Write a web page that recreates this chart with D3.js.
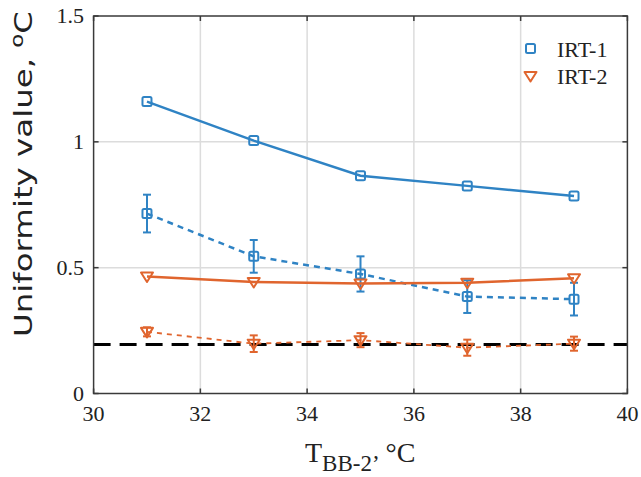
<!DOCTYPE html>
<html><head><meta charset="utf-8">
<script src="https://cdn.jsdelivr.net/npm/d3@7"></script>
<style>
html,body{margin:0;padding:0;background:#fff;}
svg{display:block;}
</style></head>
<body>
<svg id="chart" width="641" height="477"></svg>
<script>
// ---- data ----
const temps = [31, 33, 35, 37, 39];
const irt1Solid = [1.16, 1.005, 0.865, 0.825, 0.785];
const irt1Mean = [0.715, 0.545, 0.475, 0.385, 0.375];
const irt1Err = [0.075, 0.065, 0.07, 0.065, 0.065];
const irt2Solid = [0.465, 0.443, 0.437, 0.44, 0.458];
const irt2Mean = [0.245, 0.198, 0.212, 0.182, 0.198];
const irt2Err = [0.018, 0.033, 0.028, 0.032, 0.028];
const refLevel = 0.195;
const xTicks = [30, 32, 34, 36, 38, 40];
const yTicks = [0, 0.5, 1, 1.5];
const yTickLabels = ["0", "0.5", "1", "1.5"];
const legendLabels = ["IRT-1", "IRT-2"];

const blue = "#2f83c4", orange = "#e0652e";
const svg = d3.select("#chart");
const L = 93.6, R = 627.4, T = 16, B = 393.5;
const x = d3.scaleLinear().domain([30, 40]).range([L, R]);
const y = d3.scaleLinear().domain([0, 1.5]).range([B, T]);

// grid
const g = svg.append("g");
g.selectAll(".vg").data(xTicks.slice(1, -1)).enter().append("line")
  .attr("x1", d => x(d)).attr("x2", d => x(d)).attr("y1", T).attr("y2", B)
  .attr("stroke", "#dcdcdc").attr("stroke-width", 1.5);
g.selectAll(".hg").data(yTicks.slice(1, -1)).enter().append("line")
  .attr("y1", d => y(d)).attr("y2", d => y(d)).attr("x1", L).attr("x2", R)
  .attr("stroke", "#dcdcdc").attr("stroke-width", 1.5);

const line = d3.line().x(d => x(d[0])).y(d => y(d[1]));
const zip = (a, b) => a.map((v, i) => [v, b[i]]);

function squares(data, color) {
  svg.append("g").selectAll("rect").data(data).enter().append("rect")
    .attr("x", d => x(d[0]) - 4.5).attr("y", d => y(d[1]) - 4.5)
    .attr("width", 9).attr("height", 9).attr("rx", 1.5)
    .attr("fill", "none").attr("stroke", color).attr("stroke-width", 2);
}
function triangles(data, color) {
  svg.append("g").selectAll("path").data(data).enter().append("path")
    .attr("d", d => { const cx = x(d[0]), cy = y(d[1]);
      return `M${cx-6},${cy-4}L${cx+6},${cy-4}L${cx},${cy+5.5}Z`; })
    .attr("fill", "none").attr("stroke", color).attr("stroke-width", 2)
    .attr("stroke-linejoin", "round");
}
function errorbars(xs, m, e, color) {
  const eg = svg.append("g").attr("stroke", color).attr("stroke-width", 2);
  xs.forEach((t, i) => {
    eg.append("line").attr("x1", x(t)).attr("x2", x(t)).attr("y1", y(m[i] + e[i])).attr("y2", y(m[i] - e[i]));
    [m[i] + e[i], m[i] - e[i]].forEach(v => eg.append("line")
      .attr("x1", x(t) - 4).attr("x2", x(t) + 4).attr("y1", y(v)).attr("y2", y(v)));
  });
}

// IRT-1 solid
svg.append("path").attr("d", line(zip(temps, irt1Solid))).attr("fill", "none")
  .attr("stroke", blue).attr("stroke-width", 2.5);
squares(zip(temps, irt1Solid), blue);
// IRT-1 dashed with error bars
svg.append("path").attr("d", line(zip(temps, irt1Mean))).attr("fill", "none")
  .attr("stroke", blue).attr("stroke-width", 2.5).attr("stroke-dasharray", "6,5");
errorbars(temps, irt1Mean, irt1Err, blue);
squares(zip(temps, irt1Mean), blue);
// IRT-2 solid
svg.append("path").attr("d", line(zip(temps, irt2Solid))).attr("fill", "none")
  .attr("stroke", orange).attr("stroke-width", 2.5);
triangles(zip(temps, irt2Solid), orange);
// reference dashed line
svg.append("path").attr("d", line([[30, refLevel], [40, refLevel]])).attr("fill", "none")
  .attr("stroke", "#000").attr("stroke-width", 3).attr("stroke-dasharray", "17,9");
// IRT-2 dashed with error bars
svg.append("path").attr("d", line(zip(temps, irt2Mean))).attr("fill", "none")
  .attr("stroke", orange).attr("stroke-width", 1.8).attr("stroke-dasharray", "5,5");
errorbars(temps, irt2Mean, irt2Err, orange);
triangles(zip(temps, irt2Mean), orange);

// frame & ticks
svg.append("rect").attr("x", L).attr("y", T).attr("width", R - L).attr("height", B - T)
  .attr("fill", "none").attr("stroke", "#3a3a3a").attr("stroke-width", 1.5);
const tk = svg.append("g").attr("stroke", "#3a3a3a").attr("stroke-width", 1.5);
xTicks.forEach(t => {
  tk.append("line").attr("x1", x(t)).attr("x2", x(t)).attr("y1", B).attr("y2", B - 5);
  tk.append("line").attr("x1", x(t)).attr("x2", x(t)).attr("y1", T).attr("y2", T + 5);
});
yTicks.forEach(t => {
  tk.append("line").attr("x1", L).attr("x2", L + 5).attr("y1", y(t)).attr("y2", y(t));
  tk.append("line").attr("x1", R).attr("x2", R - 5).attr("y1", y(t)).attr("y2", y(t));
});

const serif = "'Liberation Serif', 'Times New Roman', serif";
// tick labels
svg.append("g").selectAll("text").data(xTicks).enter().append("text")
  .attr("x", d => x(d)).attr("y", 421).attr("text-anchor", "middle")
  .attr("font-family", serif).attr("font-size", 22).attr("fill", "#222").text(d => d);
svg.append("g").selectAll("text").data(yTicks).enter().append("text")
  .attr("x", 84).attr("y", d => y(d) + 7).attr("text-anchor", "end")
  .attr("font-family", serif).attr("font-size", 22).attr("fill", "#222")
  .text((d, i) => yTickLabels[i]);

// x label
const xl = svg.append("text").attr("x", 305).attr("y", 462)
  .attr("font-family", serif).attr("font-size", 28).attr("fill", "#222");
xl.append("tspan").text("T");
xl.append("tspan").attr("dy", 9).attr("font-size", 23).text("BB-2’");
xl.append("tspan").attr("dy", -9).attr("dx", 6).text("°C");

// y label
const yl = svg.append("text").attr("transform", "translate(32,337) rotate(-90)")
  .attr("font-family", "'DejaVu Sans', sans-serif").attr("font-size", 24).attr("fill", "#222")
  .attr("textLength", 326).attr("lengthAdjust", "spacingAndGlyphs");
yl.append("tspan").text("Uniformity value, ");
yl.append("tspan").attr("dy", -9).attr("font-size", 17).text("o");
yl.append("tspan").attr("dy", 9).text("C");

// legend
const lg = svg.append("g");
legendLabels.forEach((lab, i) => {
  const ly = 48.5 + i * 27.5;
  if (i === 0) {
    lg.append("rect").attr("x", 526).attr("y", ly - 4.5).attr("width", 9).attr("height", 9).attr("rx", 1.5)
      .attr("fill", "none").attr("stroke", blue).attr("stroke-width", 2);
  } else {
    lg.append("path").attr("d", `M${524.5},${ly-4}L${536.5},${ly-4}L${530.5},${ly+5.5}Z`)
      .attr("fill", "none").attr("stroke", orange).attr("stroke-width", 2).attr("stroke-linejoin", "round");
  }
  lg.append("text").attr("x", 557).attr("y", ly + 8).attr("font-family", serif)
    .attr("font-size", 22).attr("fill", "#222").text(lab);
});
</script>
</body></html>
